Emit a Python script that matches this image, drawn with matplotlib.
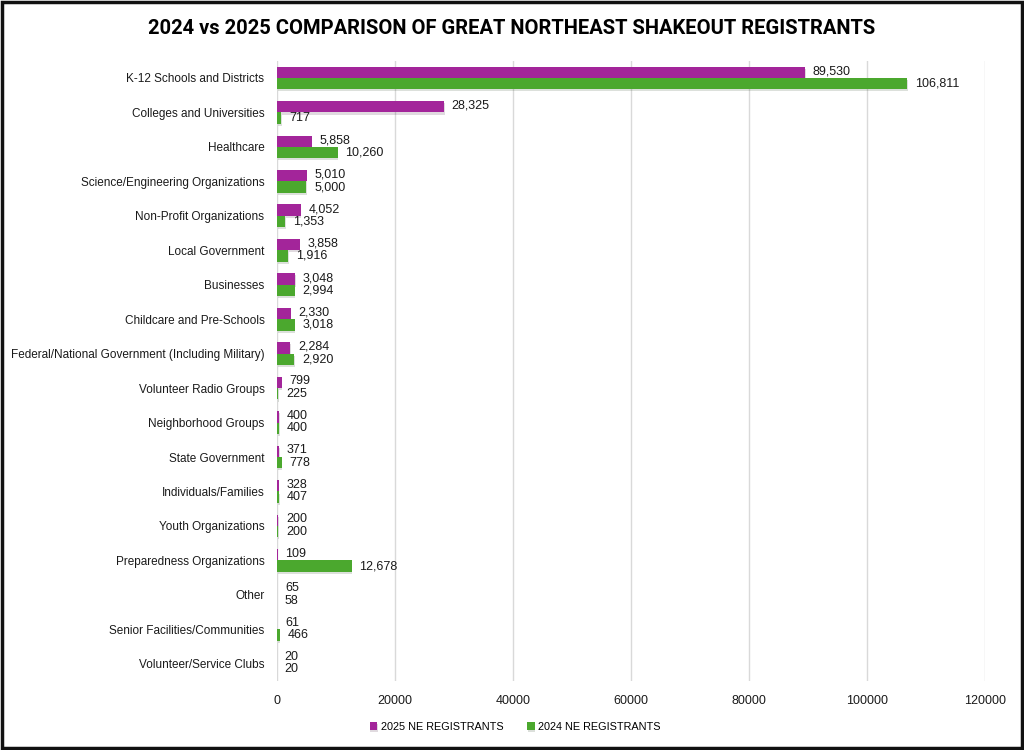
import numpy as np
import matplotlib
matplotlib.use('Agg')
from matplotlib import pyplot as plt
from matplotlib.patches import Rectangle
import matplotlib.patheffects as pe

plt.rcParams['font.family'] = ['Liberation Sans', 'DejaVu Sans']

categories = ['K-12 Schools and Districts', 'Colleges and Universities', 'Healthcare',
              'Science/Engineering Organizations', 'Non-Profit Organizations',
              'Local Government', 'Businesses', 'Childcare and Pre-Schools',
              'Federal/National Government (Including Military)', 'Volunteer Radio Groups',
              'Neighborhood Groups', 'State Government', 'Individuals/Families',
              'Youth Organizations', 'Preparedness Organizations', 'Other',
              'Senior Facilities/Communities', 'Volunteer/Service Clubs']
reg_2025 = [89530, 28325, 5858, 5010, 4052, 3858, 3048, 2330, 2284, 799,
            400, 371, 328, 200, 109, 65, 61, 20]
reg_2024 = [106811, 717, 10260, 5000, 1353, 1916, 2994, 3018, 2920, 225,
            400, 778, 407, 200, 12678, 58, 466, 20]
xticks = [0, 20000, 40000, 60000, 80000, 100000, 120000]

c25 = '#A3259A'
c24 = '#4BA82E'

fig = plt.figure(figsize=(10.24, 7.5), dpi=100)
ax = fig.add_axes([0.2705, 0.092, 0.962 - 0.2705, 0.919 - 0.092])

y = np.arange(len(categories))
h = 0.33
shadow = [pe.SimplePatchShadow(offset=(0.4, -1.5), alpha=0.15), pe.Normal()]
b1 = ax.barh(y - h / 2, reg_2025, height=h, color=c25, label='2025 NE REGISTRANTS', zorder=3)
b2 = ax.barh(y + h / 2, reg_2024, height=h, color=c24, label='2024 NE REGISTRANTS', zorder=3)
for p in list(b1) + list(b2):
    p.set_path_effects(shadow)

for yi, v in zip(y, reg_2025):
    ax.text(v + 1300, yi - h / 2 - 0.03, f'{v:,}', va='center', ha='left', fontsize=9, color='#1a1a1a')
for yi, v in zip(y, reg_2024):
    ax.text(v + 1300, yi + h / 2, f'{v:,}', va='center', ha='left', fontsize=9, color='#1a1a1a')

ax.set_ylim(len(categories) - 0.5, -0.5)
ax.set_xlim(0, 120000)
ax.set_yticks(y)
ax.set_yticklabels(categories, fontsize=8.5, color='#1a1a1a')
ax.set_xticks(xticks)
ax.set_xticklabels([str(t) for t in xticks], fontsize=9, color='#1a1a1a')
ax.tick_params(length=0, pad=10)
ax.tick_params(axis='y', pad=9)
ax.grid(axis='x', color='#d9d9d9', linewidth=1, zorder=0)
for s in ax.spines.values():
    s.set_visible(False)

fig.text(0.5, 0.962, '2024 vs 2025 COMPARISON OF GREAT NORTHEAST SHAKEOUT REGISTRANTS',
         ha='center', va='center', fontsize=14.5, fontweight='bold',
         family=['Roboto', 'DejaVu Sans'])

fig.legend(loc='center', bbox_to_anchor=(0.503, 0.031), ncol=2, frameon=False,
           fontsize=7.8, handlelength=0.7, handleheight=0.7, columnspacing=2.2, handletextpad=0.3)

fig.patches.append(Rectangle((0.002, 0.003), 0.996, 0.994, transform=fig.transFigure,
                             fill=False, edgecolor='#111111', linewidth=2.5))

fig.savefig('out.png', dpi=100)
